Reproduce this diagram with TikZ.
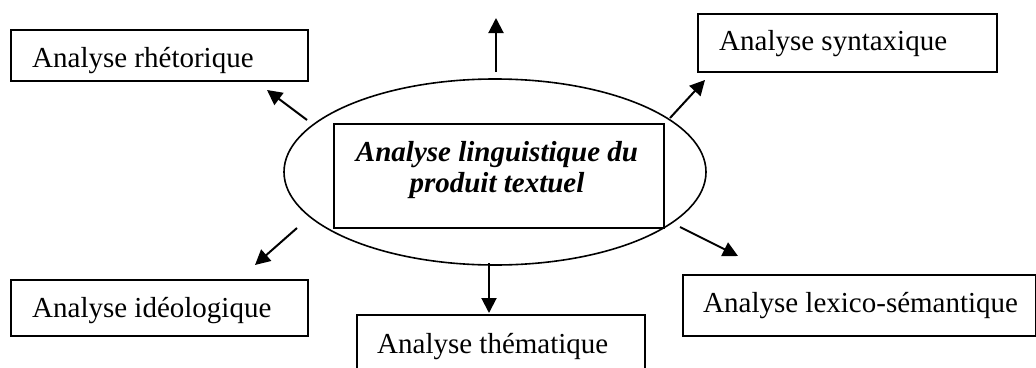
\documentclass[tikz,border=0pt]{standalone}
\usepackage{fontspec}
\setmainfont{Liberation Serif}
\usetikzlibrary{arrows.meta}
\begin{document}
\begin{tikzpicture}[x=1pt,y=-1pt,
  box/.style={draw=black,line width=2pt,rectangle,inner sep=0pt,anchor=north west},
  lbl/.style={inner sep=0pt,anchor=base west,font=\fontsize{29}{31}\selectfont},
  arr/.style={line width=2pt,-{Triangle[length=15pt,width=15pt]}}]
\useasboundingbox (0,0) rectangle (1036,367);
\fill[white] (0,0) rectangle (1036,367);
% central ellipse and box
\draw[line width=1.6pt] (495,172) ellipse [x radius=211, y radius=93];
\node[box,minimum width=330pt,minimum height=104pt] (core) at (333,123) {};
\node[inner sep=0pt,align=center,font=\fontsize{29}{31}\selectfont\bfseries\itshape] (coretext) at (497,169.7) {Analyse linguistique du\\produit textuel};
% outer boxes
\node[box,minimum width=297pt,minimum height=51pt] (rh) at (10,29) {};
\node[lbl] (rht) at (32,67) {Analyse rhétorique};
\node[box,minimum width=299pt,minimum height=58pt] (sy) at (697,13) {};
\node[lbl] (syt) at (719,50) {Analyse syntaxique};
\node[box,minimum width=297pt,minimum height=56pt] (id) at (10,279) {};
\node[lbl] (idt) at (32,317) {Analyse idéologique};
\node[box,minimum width=288pt,minimum height=58pt] (th) at (356,314) {};
\node[lbl] (tht) at (377,353) {Analyse thématique};
\node[box,minimum width=353pt,minimum height=61pt] (lx) at (682,274) {};
\node[lbl] (lxt) at (703,312) {Analyse lexico-sémantique};
% arrow ends
\coordinate (uA) at (496,72);  \coordinate (uB) at (496,18);
\coordinate (ulA) at (307,120); \coordinate (ulB) at (267,90);
\coordinate (urA) at (670,118); \coordinate (urB) at (705,80);
\coordinate (llA) at (297,228); \coordinate (llB) at (255,265);
\coordinate (dA) at (489,263);  \coordinate (dB) at (489,313);
\coordinate (lrA) at (680,227); \coordinate (lrB) at (738,256);
\draw[arr] (uA) -- (uB);
\draw[arr] (ulA) -- (ulB);
\draw[arr] (urA) -- (urB);
\draw[arr] (llA) -- (llB);
\draw[arr] (dA) -- (dB);
\draw[arr] (lrA) -- (lrB);
\end{tikzpicture}
\end{document}
